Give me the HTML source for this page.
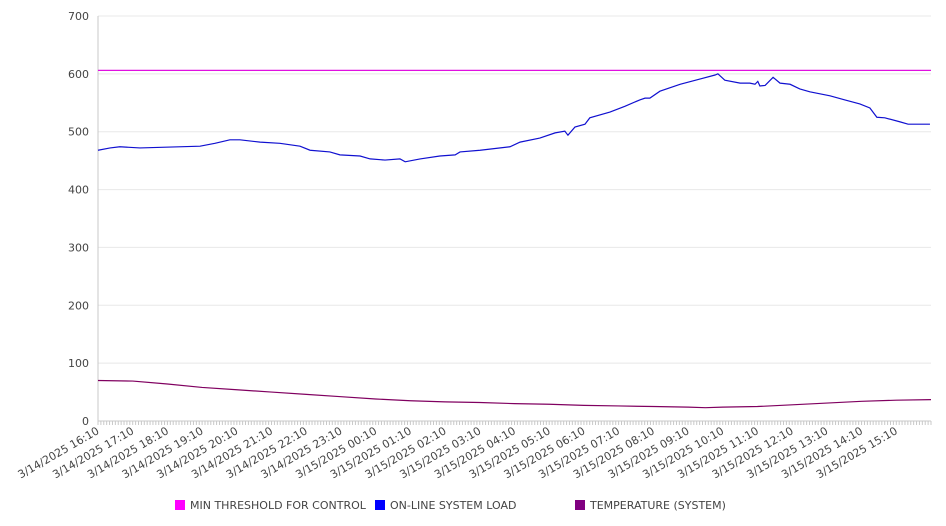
<!DOCTYPE html>
<html><head><meta charset="utf-8"><style>
body{margin:0;background:#fff;}
svg{display:block;font-family:"DejaVu Sans","Liberation Sans",sans-serif;}
</style></head><body>
<svg id="chart" width="946" height="526">
<g id="grid"></g>
<g id="yaxis"></g>
<g id="xaxis"></g>
<g id="series"></g>
<g id="legend">
<g><rect x="175" y="500" width="10" height="10" fill="#ff00ff"/><text x="190" y="509" font-size="11" fill="#444">MIN THRESHOLD FOR CONTROL</text></g>
<g><rect x="375" y="500" width="10" height="10" fill="#0000ff"/><text x="390" y="509" font-size="11" fill="#444">ON-LINE SYSTEM LOAD</text></g>
<g><rect x="575" y="500" width="10" height="10" fill="#800080"/><text x="590" y="509" font-size="11" fill="#444">TEMPERATURE (SYSTEM)</text></g>
</g>
</svg>
<script>
// hours since 3/14/2025 16:10
const loadHours = [0,0.35,0.63,1.21,2.94,3.37,3.80,4.09,4.67,5.24,5.82,6.11,6.68,6.97,7.55,7.84,8.27,8.70,8.85,9.28,9.85,10.29,10.43,11.01,11.87,12.16,12.73,13.17,13.45,13.54,13.74,14.03,14.17,14.75,15.18,15.61,15.76,15.90,16.19,16.77,17.34,17.78,17.86,18.06,18.50,18.78,18.93,19.01,19.07,19.22,19.45,19.65,19.94,20.22,20.51,21.09,21.52,21.95,22.24,22.44,22.67,23.11,23.34,23.97];
const loadValues = [468,472,474,472,475,480,486,486,482,480,475,468,465,460,458,453,451,453,448,453,458,460,465,468,474,482,489,498,501,494,508,513,524,534,544,555,558,558,570,582,591,598,600,589,584,584,582,587,579,580,594,584,582,574,569,562,555,548,541,525,524,517,513,513];
const tempHours = [0,1,2,3,4,5,6,7,8,9,10,11,12,13,14,15,16,17,17.5,18,19,20,21,22,23,24];
const tempValues = [70,69,64,58,54,50,46,42,38,35,33,32,30,29,27,26,25,24,23,24,25,28,31,34,36,37];
const thresholdValue = 606;
const yTicks = [0,100,200,300,400,500,600,700];
const xLabels = ["3/14/2025 16:10","3/14/2025 17:10","3/14/2025 18:10","3/14/2025 19:10","3/14/2025 20:10","3/14/2025 21:10","3/14/2025 22:10","3/14/2025 23:10","3/15/2025 00:10","3/15/2025 01:10","3/15/2025 02:10","3/15/2025 03:10","3/15/2025 04:10","3/15/2025 05:10","3/15/2025 06:10","3/15/2025 07:10","3/15/2025 08:10","3/15/2025 09:10","3/15/2025 10:10","3/15/2025 11:10","3/15/2025 12:10","3/15/2025 13:10","3/15/2025 14:10","3/15/2025 15:10"];

const NS='http://www.w3.org/2000/svg';
const X0=98,X1=931,Y0=421,Y1=16;
function xs(h){return X0+h/24*(X1-X0);}
function ys(v){return Y0-v/700*(Y0-Y1);}
function mk(t,a,p){const e=document.createElementNS(NS,t);for(const k in a)e.setAttribute(k,a[k]);p.appendChild(e);return e;}
const grid=document.getElementById('grid'),ya=document.getElementById('yaxis'),xa=document.getElementById('xaxis'),se=document.getElementById('series');
yTicks.forEach(v=>{
  if(v>0){const g=mk('line',{x1:X0,x2:X1,y1:ys(v),y2:ys(v),stroke:'#e8e8e8'},grid);
  
  }
  const t=mk('text',{x:89,y:ys(v)+4,'text-anchor':'end','font-size':'11',fill:'#444'},ya);
  
  
  t.textContent=v;
});
mk('line',{x1:X0,x2:X0,y1:Y1,y2:Y0,stroke:'#c8c8c8'},ya);
mk('line',{x1:X0,x2:X1,y1:Y0,y2:Y0,stroke:'#c8c8c8'},xa);
for(let i=0;i<=288;i++){mk('line',{x1:xs(i/12),x2:xs(i/12),y1:Y0,y2:Y0+4,stroke:'#c8c8c8'},xa);}
xLabels.forEach((l,i)=>{
  const x=xs(i)+2;
  const t=mk('text',{x:x,y:Y0+12,'text-anchor':'end','font-size':'11',fill:'#444',transform:`rotate(-30 ${x} ${Y0+12})`},xa);
  
  
  t.textContent=l;
});
const th=mk('line',{x1:X0,x2:X1,y1:ys(thresholdValue),y2:ys(thresholdValue),stroke:'#e010e0','stroke-width':1.2},se);


const lp=mk('polyline',{points:loadHours.map((h,i)=>xs(h)+','+ys(loadValues[i])).join(' '),fill:'none',stroke:'#1010d0','stroke-width':1.2},se);


const tp=mk('polyline',{points:tempHours.map((h,i)=>xs(h)+','+ys(tempValues[i])).join(' '),fill:'none',stroke:'#800060','stroke-width':1.2},se);


</script>
</body></html>
